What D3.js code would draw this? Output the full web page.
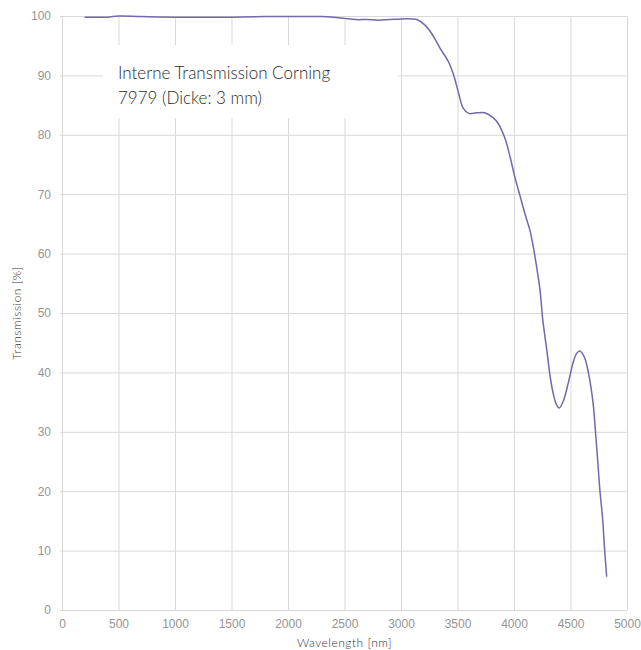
<!DOCTYPE html>
<html>
<head>
<meta charset="utf-8">
<script src="https://cdn.jsdelivr.net/npm/d3@7"></script>
<style>
  body { margin: 0; background: #fff; }
  svg { display: block; font-family: Lato, "Open Sans", sans-serif; }
  .tick text { fill: #949494; font-size: 12px; font-weight: 300; }
  .grid line { stroke: #d9d9d9; stroke-width: 1; }
  .axis-title { fill: #333; font-size: 12px; font-weight: 300; letter-spacing: 0.5px; }
</style>
</head>
<body>
<div id="chart"></div>
<script>
// wavelength [nm] and internal transmission [%]
const wavelength = [200, 400, 500, 700, 1000, 1100, 1200, 1500, 1800, 2000, 2300, 2400, 2500, 2600, 2700, 2800, 2900, 3000, 3100,
  3140, 3210, 3270, 3345, 3420, 3465, 3510, 3550, 3600, 3670, 3740, 3815, 3860, 3920, 3965, 4010, 4055, 4100, 4140, 4170,
  4200, 4230, 4255, 4290, 4320, 4350, 4375, 4400, 4435, 4480, 4525, 4555, 4580, 4620, 4660, 4700, 4720, 4740, 4760, 4785, 4800, 4820];
const transmission = [99.8, 99.8, 100, 99.9, 99.8, 99.8, 99.8, 99.8, 99.9, 99.9, 99.9, 99.8, 99.6, 99.4, 99.4, 99.3, 99.4, 99.5, 99.5,
  99.4, 98.5, 97.1, 94.6, 92.3, 90.1, 87.0, 84.5, 83.6, 83.7, 83.7, 82.9, 81.9, 79.4, 76.3, 72.7, 69.6, 66.5, 64.0, 61.2,
  57.8, 53.9, 48.8, 43.8, 39.3, 36.2, 34.6, 34.0, 35.1, 38.2, 41.8, 43.2, 43.6, 42.7, 39.8, 34.8, 30.3, 25.3, 20.2, 15.2, 10.7, 5.6];

const xTicks = d3.range(0, 5001, 500);
const yTicks = d3.range(0, 101, 10);
const titleLines = ["Interne Transmission Corning", "7979 (Dicke: 3 mm)"];

const width = 641, height = 650;
const margin = { top: 16, left: 62, right: 14, bottom: 40 };

const x = d3.scaleLinear().domain([0, 5000]).range([margin.left, width - margin.right]);
const y = d3.scaleLinear().domain([0, 100]).range([height - margin.bottom, margin.top]);

const svg = d3.select("#chart").append("svg")
  .attr("width", width)
  .attr("height", height);

// gridlines
svg.append("g")
  .attr("class", "grid")
  .selectAll("line.h")
  .data(yTicks)
  .join("line")
  .attr("x1", x(0) - 2).attr("x2", x(5000))
  .attr("y1", d => y(d) + 0.5).attr("y2", d => y(d) + 0.5);

svg.append("g")
  .attr("class", "grid")
  .selectAll("line.v")
  .data(xTicks)
  .join("line")
  .attr("x1", d => x(d) + 0.5).attr("x2", d => x(d) + 0.5)
  .attr("y1", y(100)).attr("y2", y(0));

// axes (labels only)
const xAxis = d3.axisBottom(x).tickValues(xTicks).tickSize(0).tickPadding(9).tickFormat(d3.format("d"));
const yAxis = d3.axisLeft(y).tickValues(yTicks).tickSize(0).tickPadding(11);

svg.append("g")
  .attr("transform", `translate(0,${y(0)})`)
  .call(xAxis)
  .call(g => g.select(".domain").remove());

svg.append("g")
  .attr("transform", `translate(${x(0)},0)`)
  .call(yAxis)
  .call(g => g.select(".domain").remove());

// legend box hiding the grid behind the title
svg.append("rect")
  .attr("x", 103).attr("y", 45)
  .attr("width", 295).attr("height", 73)
  .attr("fill", "#fff");

svg.append("text")
  .attr("x", 118).attr("y", 79)
  .attr("fill", "#2b2b2b")
  .style("font-size", "17px")
  .style("font-weight", 300)
  .selectAll("tspan")
  .data(titleLines)
  .join("tspan")
  .attr("x", 118)
  .attr("dy", (d, i) => i ? 25 : 0)
  .text(d => d);

// the curve
const points = wavelength.map((w, i) => [w, transmission[i]]);
const line = d3.line()
  .x(d => x(d[0]))
  .y(d => y(d[1]))
  .curve(d3.curveCatmullRom.alpha(0.5));

svg.append("path")
  .datum(points)
  .attr("fill", "none")
  .attr("stroke", "#7467ac")
  .attr("stroke-width", 1.5)
  .attr("d", line);

// axis titles
svg.append("text")
  .attr("class", "axis-title")
  .attr("text-anchor", "middle")
  .attr("x", (x(0) + x(5000)) / 2)
  .attr("y", 647)
  .text("Wavelength [nm]");

svg.append("text")
  .attr("class", "axis-title")
  .attr("text-anchor", "middle")
  .attr("transform", `translate(21,${(y(0) + y(100)) / 2}) rotate(-90)`)
  .text("Transmission [%]");
</script>
</body>
</html>
